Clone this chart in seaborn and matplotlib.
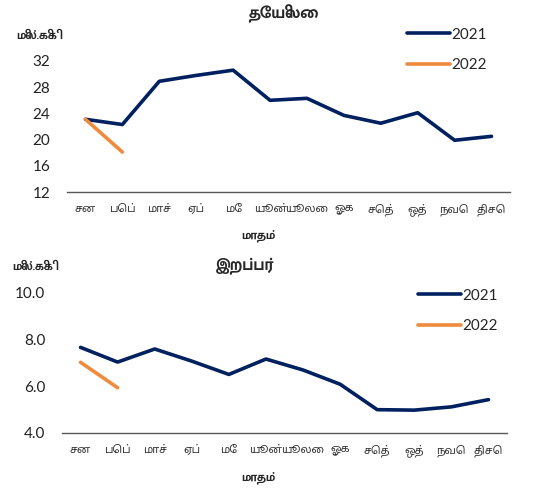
#!/usr/bin/env python3
# Tea and rubber production by month, 2021 vs 2022

import pandas as pd
import seaborn as sns
import matplotlib.pyplot as plt

months = ["சன", "பெப்", "மாச்", "ஏப்", "மே", "யூன்", "யூலை", "ஓக", "செத்", "ஒத்", "நவெ", "திசெ"]
years = ["2021", "2022"]

tea_2021 = [23.1, 22.3, 28.9, 29.8, 30.6, 26.0, 26.3, 23.7, 22.5, 24.1, 19.9, 20.5]
tea_2022 = [23.1, 18.1]
rubber_2021 = [7.67, 7.04, 7.6, 7.08, 6.51, 7.17, 6.7, 6.09, 5.0, 4.98, 5.12, 5.43]
rubber_2022 = [7.03, 5.94]

tea_ticks = [12, 16, 20, 24, 28, 32]
rubber_ticks = [4.0, 6.0, 8.0, 10.0]

colors = {"2021": "#002060", "2022": "#F08A3C"}

sns.set_theme(style="white")
plt.rcParams["font.family"] = ["Lato", "Noto Sans Tamil", "DejaVu Sans"]
bold_fam = ["Mukta Malar", "Noto Sans Tamil", "DejaVu Sans"]


def long_df(v21, v22):
    rows = []
    for m, v in zip(months, v21):
        rows.append({"month": m, "value": v, "year": "2021"})
    for m, v in zip(months, v22):
        rows.append({"month": m, "value": v, "year": "2022"})
    return pd.DataFrame(rows)


fig = plt.figure(figsize=(5.48, 4.93), dpi=100)
W, H = 548, 493


def panel(left, top, right, bottom, df, ticks, fmt, title, title_xy, unit_xy, xlabel_y, leg_xy):
    ax = fig.add_axes([left / W, 1 - bottom / H, (right - left) / W, (bottom - top) / H])
    sns.lineplot(data=df, x="month", y="value", hue="year", hue_order=years,
                 palette=colors, linewidth=2.6, ax=ax, sort=False)
    ax.set_xlim(-0.5, len(months) - 0.5)
    ax.set_ylim(ticks[0], ticks[-1])
    ax.set_yticks(ticks)
    ax.set_yticklabels([fmt.format(t) for t in ticks], fontsize=11, color="#222222")
    ax.set_xticks(range(len(months)))
    ax.set_xticklabels(months, fontsize=7.8, color="#333333")
    ax.tick_params(axis="x", length=0, pad=8)
    ax.tick_params(axis="y", length=0, pad=12)
    for s in ["top", "right", "left"]:
        ax.spines[s].set_visible(False)
    ax.spines["bottom"].set_color("#595959")
    ax.spines["bottom"].set_linewidth(1.0)
    ax.set_xlabel("")
    ax.set_ylabel("")
    ax.get_legend().remove()
    fig.text(title_xy[0] / W, 1 - title_xy[1] / H, title, fontsize=12, fontweight="bold",
             family=bold_fam, ha="center", va="center")
    fig.text(unit_xy[0] / W, 1 - unit_xy[1] / H, "மில்.கிகி", fontsize=9, fontweight="bold",
             family=bold_fam, ha="center", va="center")
    fig.text(258 / W, 1 - xlabel_y / H, "மாதம்", fontsize=9, fontweight="bold",
             family=bold_fam, ha="center", va="center")
    handles, labels = ax.get_legend_handles_labels()
    fig.legend(handles, labels, loc="center left",
               bbox_to_anchor=(leg_xy[0] / W, 1 - leg_xy[1] / H),
               frameon=False, fontsize=11, handlelength=2.8, handletextpad=0.1,
               labelspacing=1.1)
    return ax


panel(67, 61, 510, 192, long_df(tea_2021, tea_2022), tea_ticks, "{:.0f}",
      "தேயிலை", (283, 14), (37, 36), 236, (393, 50))
panel(62, 293, 507, 433, long_df(rubber_2021, rubber_2022), rubber_ticks, "{:.1f}",
      "இறப்பர்", (245, 266), (33, 267), 478, (404, 311))

fig.savefig("out.png", dpi=100)
